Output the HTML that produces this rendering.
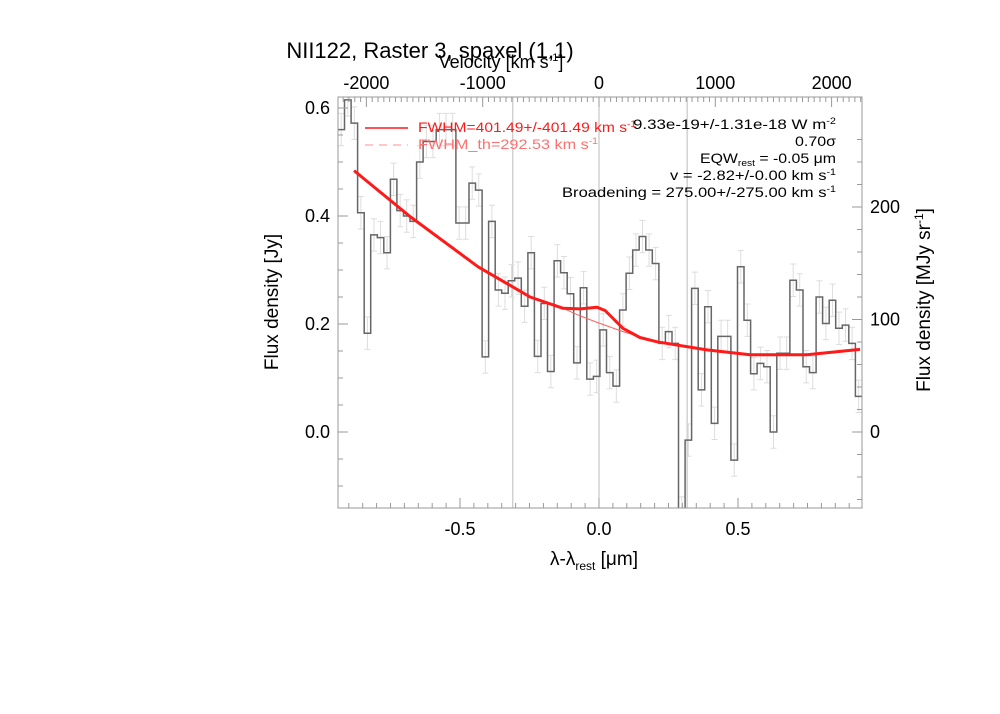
<!DOCTYPE html>
<html><head><meta charset="utf-8"><style>
html,body{margin:0;padding:0;background:#fff;}
svg{display:block;font-family:"Liberation Sans",sans-serif;}
</style></head><body>
<svg id="chart" width="1000" height="714" viewBox="0 0 1000 714">
<g id="grid"></g>
<g id="errs"></g>
<g id="hist"></g>
<g id="fits"></g>
<g id="axes"></g>
<g id="labels"></g>
</svg>
<script>
// ---- data ----
const lamStart = -0.939;
const binWidth = 0.02356;
const fluxValues = [0.56,0.615,0.572,0.406,0.183,0.365,0.36,0.332,0.468,0.41,0.40,0.39,0.50,0.538,0.538,0.56,0.56,0.56,0.387,0.387,
0.461,0.448,0.139,0.39,0.263,0.257,0.28,0.285,0.233,0.332,0.14,0.238,0.112,0.317,0.295,0.256,0.128,0.267,0.098,0.103,0.189,0.11,
0.085,0.226,0.294,0.337,0.362,0.337,0.312,0.164,0.186,0.164,-0.15,-0.015,0.266,0.078,0.232,0.016,0.177,0.177,-0.052,0.306,0.207,0.108,
0.127,0.121,0.0,0.146,0.146,0.281,0.263,0.121,0.11,0.25,0.201,0.244,0.192,0.198,0.164,0.066];
const fluxErrors = fluxValues.map(()=>0.03);
const fitLam = [-0.881,-0.680,-0.435,-0.248,-0.129,-0.068,-0.007,0.022,0.086,0.147,0.209,0.388,0.543,0.748,0.939];
const fitFlux = [0.484,0.399,0.306,0.25,0.229,0.228,0.231,0.225,0.192,0.175,0.167,0.152,0.143,0.143,0.153];
const baseLam = [-0.881,-0.680,-0.435,-0.248,-0.129,-0.068,-0.007,0.086,0.209,0.388,0.543,0.748,0.939];
const baseFlux = [0.484,0.399,0.306,0.25,0.229,0.215,0.203,0.186,0.167,0.152,0.143,0.143,0.153];
const xTicks = [-0.5,0.0,0.5];
const xTickLabels = ["-0.5","0.0","0.5"];
const yTicks = [0.0,0.2,0.4,0.6];
const yTickLabels = ["0.0","0.2","0.4","0.6"];
const vTicks = [-2000,-1000,0,1000,2000];
const vTickLabels = ["-2000","-1000","0","1000","2000"];
const rTicks = [0,100,200];
const rTickLabels = ["0","100","200"];
const markerLam = [-0.31,0.0,0.317];

// ---- scales ----
const L=338,R=862,T=97,B=508;
const X = l => 599 + l*278;
const Y = f => 432 - f*540;
const XV = v => 599 + v*0.1163;
const YR = r => 432 - r*1.125;
const NS="http://www.w3.org/2000/svg";
function mk(tag,attrs,parent){const e=document.createElementNS(NS,tag);for(const k in attrs)e.setAttribute(k,attrs[k]);parent.appendChild(e);return e;}
const grid=document.getElementById('grid'),errs=document.getElementById('errs'),hist=document.getElementById('hist'),fits=document.getElementById('fits'),axes=document.getElementById('axes'),labels=document.getElementById('labels');

const defs=mk('defs',{},document.getElementById('chart'));
const cp=mk('clipPath',{id:'pc'},defs);mk('rect',{x:L,y:T,width:R-L,height:B-T},cp);
[grid,errs,hist,fits].forEach(g=>g.setAttribute('clip-path','url(#pc)'));

markerLam.forEach(l=>{
  const e=mk('line',{x1:X(l),x2:X(l),y1:T,y2:B,stroke:'#bbb','stroke-width':1},grid);
  
  
});

let d='';
fluxValues.forEach((f,i)=>{
  const x0=X(lamStart+i*binWidth),x1=X(lamStart+(i+1)*binWidth),y=Y(f);
  d+=(i===0?'M':'L')+x0.toFixed(1)+','+y.toFixed(1)+'L'+x1.toFixed(1)+','+y.toFixed(1);
  const xc=(x0+x1)/2,ya=Y(f+fluxErrors[i]),yb=Y(f-fluxErrors[i]);
  const eb=mk('path',{d:`M${xc},${ya}L${xc},${yb}M${xc-3},${ya}L${xc+3},${ya}M${xc-3},${yb}L${xc+3},${yb}`,stroke:'#ddd','stroke-width':1,fill:'none'},errs);
  
  
});
const hp=mk('path',{d:d,stroke:'#666','stroke-width':1.5,fill:'none'},hist);



function poly(la,fa){return la.map((l,i)=>(i?'L':'M')+X(l).toFixed(1)+','+Y(fa[i]).toFixed(1)).join('');}
const bp=mk('path',{d:poly(baseLam,baseFlux),stroke:'#ff6060','stroke-width':1,fill:'none'},fits);


const fp=mk('path',{d:poly(fitLam,fitFlux),stroke:'#ff1a1a','stroke-width':3,fill:'none','stroke-linejoin':'round'},fits);



const fr=mk('rect',{x:L,y:T,width:R-L,height:B-T,fill:'none',stroke:'#999','stroke-width':1},axes);


let td='';
for(let l=-0.9;l<=0.95;l+=0.05){const x=X(l);const maj=Math.abs(l*2-Math.round(l*2))<1e-6;const s=maj?10:5;td+=`M${x},${B}L${x},${B-s}`;}
for(let f=-0.1;f<=0.62;f+=0.05){const y=Y(f);const maj=Math.abs(f*5-Math.round(f*5))<1e-6;const s=maj?10:5;td+=`M${L},${y}L${L+s},${y}`;}
for(let v=-2500;v<=2500;v+=50){const x=XV(v);if(x<L||x>R)continue;const s=v%1000===0?10:5;td+=`M${x},${T}L${x},${T+s}`;}
for(let r=-60;r<=260;r+=20){const y=YR(r);if(y<T||y>B)continue;const s=r%100===0?10:5;td+=`M${R},${y}L${R-s},${y}`;}
const tk=mk('path',{d:td,stroke:'#999','stroke-width':1},axes);



function txt(s,x,y,attrs,name){const e=mk('text',Object.assign({x:x,y:y,'font-size':18,fill:'#000'},attrs),labels);e.innerHTML=s;return e;}
xTicks.forEach((t,i)=>txt(xTickLabels[i],X(t),535,{'text-anchor':'middle'},'x-tick-label'));
yTicks.forEach((t,i)=>txt(yTickLabels[i],330,Y(t)+6,{'text-anchor':'end'},'y-tick-label'));
vTicks.forEach((t,i)=>txt(vTickLabels[i],XV(t),89,{'text-anchor':'middle'},'velocity-tick-label'));
rTicks.forEach((t,i)=>txt(rTickLabels[i],870,YR(t)+6,{'text-anchor':'start'},'right-tick-label'));
</script>
<div style="position:absolute;left:0;top:0;width:1000px;height:714px;pointer-events:none;">
<svg width="1000" height="714" style="position:absolute;left:0;top:0">
<text x="430" y="58" font-size="22" text-anchor="middle" font-family="Liberation Sans,sans-serif">NII122, Raster 3, spaxel (1,1)</text>
<text x="501" y="68" font-size="18" text-anchor="middle" font-family="Liberation Sans,sans-serif">Velocity [km s<tspan dy="-7" font-size="11">-1</tspan><tspan dy="7">]</tspan></text>
<text x="594" y="565" font-size="19" text-anchor="middle" font-family="Liberation Sans,sans-serif">λ-λ<tspan dy="5" font-size="12">rest</tspan><tspan dy="-5"> [μm]</tspan></text>
<text transform="translate(278,302) rotate(-90)" font-size="19" text-anchor="middle" font-family="Liberation Sans,sans-serif">Flux density [Jy]</text>
<text transform="translate(930,300) rotate(-90)" font-size="19" text-anchor="middle" font-family="Liberation Sans,sans-serif">Flux density [MJy sr<tspan dy="-7" font-size="12">-1</tspan><tspan dy="7">]</tspan></text>
<line x1="365" y1="128" x2="408" y2="128" stroke="#ff1a1a" stroke-width="1.5"/>
<line x1="365" y1="145" x2="408" y2="145" stroke="#ff9090" stroke-width="1" stroke-dasharray="8,6"/>
<g font-family="Liberation Sans,sans-serif" font-size="14">
<text x="418" y="132" fill="#ff1a1a" textLength="218" lengthAdjust="spacingAndGlyphs">FWHM=401.49+/-401.49 km s<tspan dy="-5" font-size="9">-1</tspan></text>
<text x="418" y="149" fill="#ff7070" textLength="180" lengthAdjust="spacingAndGlyphs">FWHM_th=292.53 km s<tspan dy="-5" font-size="9">-1</tspan></text>
<text x="633" y="129" textLength="203" lengthAdjust="spacingAndGlyphs">9.33e-19+/-1.31e-18 W m<tspan dy="-5" font-size="9">-2</tspan></text>
<text x="795" y="146" textLength="41" lengthAdjust="spacingAndGlyphs">0.70σ</text>
<text x="700" y="163" textLength="136" lengthAdjust="spacingAndGlyphs">EQW<tspan dy="3" font-size="9">rest</tspan><tspan dy="-3"> = -0.05 μm</tspan></text>
<text x="670" y="180" textLength="166" lengthAdjust="spacingAndGlyphs">v = -2.82+/-0.00 km s<tspan dy="-5" font-size="9">-1</tspan></text>
<text x="562" y="197" textLength="274" lengthAdjust="spacingAndGlyphs">Broadening = 275.00+/-275.00 km s<tspan dy="-5" font-size="9">-1</tspan></text>
</g>
</svg>
</div>
</body></html>
